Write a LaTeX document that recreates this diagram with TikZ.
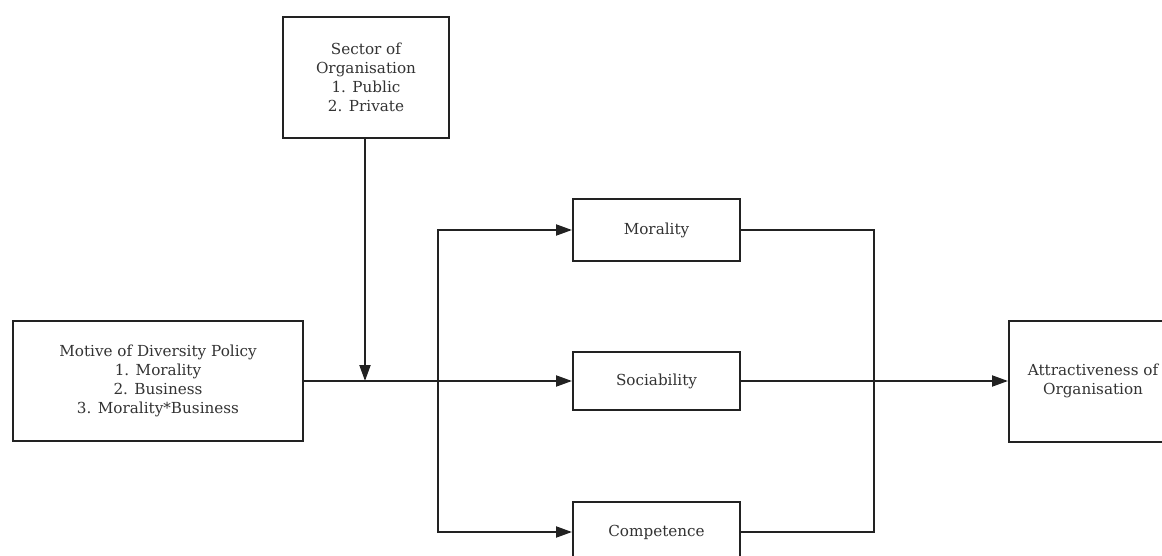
\documentclass[tikz,border=0pt]{standalone}
\usepackage{fontspec}
\setmainfont{DejaVu Serif}
\usetikzlibrary{arrows.meta}
\definecolor{ink}{HTML}{222222}
\definecolor{txt}{HTML}{333333}
\begin{document}
\begin{tikzpicture}[x=1pt,y=-1pt,
  box/.style={draw=ink,line width=2pt,fill=white,align=center,text=txt,
    font=\fontsize{15.2}{19}\selectfont,inner sep=0pt},
  conn/.style={draw=ink,line width=2pt},
  arr/.style={conn,-{Triangle[length=16pt,width=11pt]}}]
\useasboundingbox (0,0) rectangle (1162,556);
\node[box,minimum width=166pt,minimum height=121pt] (sector) at (366,77.5)
  {Sector of\\Organisation\\1. Public\\2. Private};
\node[box,minimum width=290pt,minimum height=120pt] (motive) at (158,381)
  {Motive of Diversity Policy\\1. Morality\\2. Business\\3. Morality*Business};
\node[box,minimum width=168pt,minimum height=121pt] (attr) at (1093,381)
  {Attractiveness of\\Organisation};
\node[box,minimum width=167pt,minimum height=61pt] (moral) at (656.5,230) {Morality};
\node[box,minimum width=167pt,minimum height=58pt] (soc) at (656.5,381) {Sociability};
\node[box,minimum width=167pt,minimum height=60pt] (comp) at (656.5,532) {Competence};
\coordinate (join) at (365,381);
\coordinate (split) at (438,381);
\coordinate (merge) at (874,381);
\draw[conn] (motive.east) -- (split);
\draw[arr] (sector.south -| join) -- (join);
\draw[arr] (split) -- (soc.west);
\draw[arr] (split) |- (moral.west);
\draw[arr] (split) |- (comp.west);
\draw[conn] (moral.east) -| (merge);
\draw[conn] (comp.east) -| (merge);
\draw[arr] (soc.east) -- (attr.west);
\end{tikzpicture}
\end{document}
